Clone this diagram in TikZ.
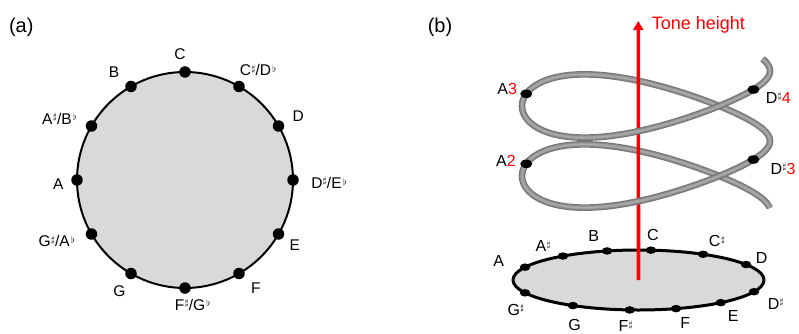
\documentclass[tikz,border=0pt]{standalone}
\usepackage{fontspec}
\setmainfont{Liberation Sans}
\usetikzlibrary{arrows.meta,shapes.geometric}
\newcommand\shp{\kern0.5pt\raisebox{4.4pt}{\fontsize{9}{9}\selectfont$\sharp$}\kern0.4pt}
\newcommand\flt{\kern1.2pt\raisebox{3.2pt}{\fontsize{10}{10}\selectfont$\flat$}}
\definecolor{lgray}{HTML}{D9D9D9}
\definecolor{tonered}{HTML}{FF0000}
\tikzset{
  adot/.style={circle, fill=black, inner sep=0pt, minimum size=11.5pt},
  bdot/.style={ellipse, fill=black, inner sep=0pt, minimum width=10.5pt, minimum height=7.5pt},
  hdot/.style={ellipse, fill=black, inner sep=0pt, minimum width=12pt, minimum height=8.5pt},
  alab/.style={anchor=base, inner sep=0pt, font=\fontsize{15.5}{15.5}\selectfont},
  blab/.style={anchor=base, inner sep=0pt, font=\fontsize{16}{16}\selectfont},
  panel/.style={anchor=base, inner sep=0pt, font=\fontsize{20}{20}\selectfont},
}
\begin{document}
\begin{tikzpicture}[x=1pt,y=-1pt]
\useasboundingbox (0,0) rectangle (799,334);
% ---------- panel (a)
\node[panel] (pa) at (21.3,32.3) {(a)};
\node[circle, draw=black, fill=lgray, line width=2pt, inner sep=0pt, minimum size=216pt] (wheel) at (185,180) {};
\foreach \n/\a in {C/90, Cs/60, D/30, Ds/0, E/-30, F/-60, Fs/-90, G/-120, Gs/-150, A/180, As/150, B/120}
  \node[adot] (a\n) at ({185+108*cos(\a)},{180-108*sin(\a)}) {};
\node[alab] (laC)  at (180,60)     {C};
\node[alab] (laCs) at (258,76)     {C\shp/D\flt};
\node[alab] (laD)  at (298.3,121.7) {D};
\node[alab] (laDs) at (329,188.3)  {D\shp/E\flt};
\node[alab] (laE)  at (294.7,250.7) {E};
\node[alab] (laF)  at (255.8,293.3) {F};
\node[alab] (laFs) at (192.5,310)  {F\shp/G\flt};
\node[alab] (laG)  at (119.3,296.7) {G};
\node[alab] (laGs) at (56.7,246.7) {G\shp/A\flt};
\node[alab] (laA)  at (58.3,189.3) {A};
\node[alab] (laAs) at (59.5,124)   {A\shp/B\flt};
\node[alab] (laB)  at (114,77.3)   {B};
% ---------- panel (b)
\node[panel] (pb) at (440,32.3) {(b)};
\node[ellipse, draw=black, fill=lgray, line width=3pt, inner sep=0pt, minimum width=251pt, minimum height=60pt] (base) at (638.5,280) {};
\foreach \n/\t in {C/84.3, Cs/59, D/31, Ds/-23, E/-49, F/-72.6, Fs/-94, G/-121.5, Gs/-154.7, A/154.7, As/127, B/104.5}
  \node[bdot] (b\n) at ({638.5+125.5*cos(\t)},{280-30*sin(\t)}) {};
\node[blab] (lbA)  at (498.8,266)   {A};
\node[blab] (lbAs) at (543.3,251.7) {A\shp};
\node[blab] (lbB)  at (593.7,241.7) {B};
\node[blab] (lbC)  at (652.8,240.7) {C};
\node[blab] (lbCs) at (717,246.7)   {C\shp};
\node[blab] (lbD)  at (761.7,263.3) {D};
\node[blab] (lbDs) at (775.8,309.3) {D\shp};
\node[blab] (lbE)  at (733.3,321.7) {E};
\node[blab] (lbF)  at (685.3,328.3) {F};
\node[blab] (lbFs) at (625.8,331.5) {F\shp};
\node[blab] (lbG)  at (574.5,330.7) {G};
\node[blab] (lbGs) at (516,315)     {G\shp};
% helix, back parts
\foreach \w/\c in {6.6/black!55, 4.8/black!47, 3/black!40, 1.3/black!33}
  \foreach \p/\q in {-20/0, 180/360, 540/715}
    \draw[line width=\w pt, color=\c] plot[domain=\p:\q, samples=70, smooth]
      ({646+124*cos(\x)},{71+0.194444*\x+41*sin(\x)-9*sin(2*\x)});
% tone height axis
\coordinate (tip) at (638.3,21);
\draw[tonered, line width=3.6pt, -{Triangle[width=10pt,length=9pt]}] (base.center) -- (tip);
\node[blab, anchor=base, text=tonered, font=\fontsize{18}{18}\selectfont] (tone) at (698.3,30) {Tone height};
% helix, front parts
\foreach \w/\c in {6.6/black!55, 4.8/black!47, 3/black!40, 1.3/black!33}
  \foreach \p/\q in {0/180, 360/540}
    \draw[line width=\w pt, color=\c] plot[domain=\p:\q, samples=70, smooth]
      ({646+124*cos(\x)},{71+0.194444*\x+41*sin(\x)-9*sin(2*\x)});
% helix dots
\node[hdot] (hA3) at ({646+124*cos(195)},{71+37.92+41*sin(195)-9*sin(390)}) {};
\node[hdot] (hA2) at ({646+124*cos(555)},{71+107.92+41*sin(555)-9*sin(1110)}) {};
\node[hdot] (hD4) at ({646+124*cos(30)},{71+5.83+41*sin(30)-9*sin(60)}) {};
\node[hdot] (hD3) at ({646+124*cos(390)},{71+75.83+41*sin(390)-9*sin(780)}) {};
\node[blab] (lA3) at (507.2,94.3)  {A{\color{tonered}3}};
\node[blab] (lA2) at (506,166.7)   {A{\color{tonered}2}};
\node[blab] (lD4) at (778.3,103.3) {D\shp{\color{tonered}4}};
\node[blab] (lD3) at (783,174)     {D\shp{\color{tonered}3}};
\end{tikzpicture}
\end{document}
